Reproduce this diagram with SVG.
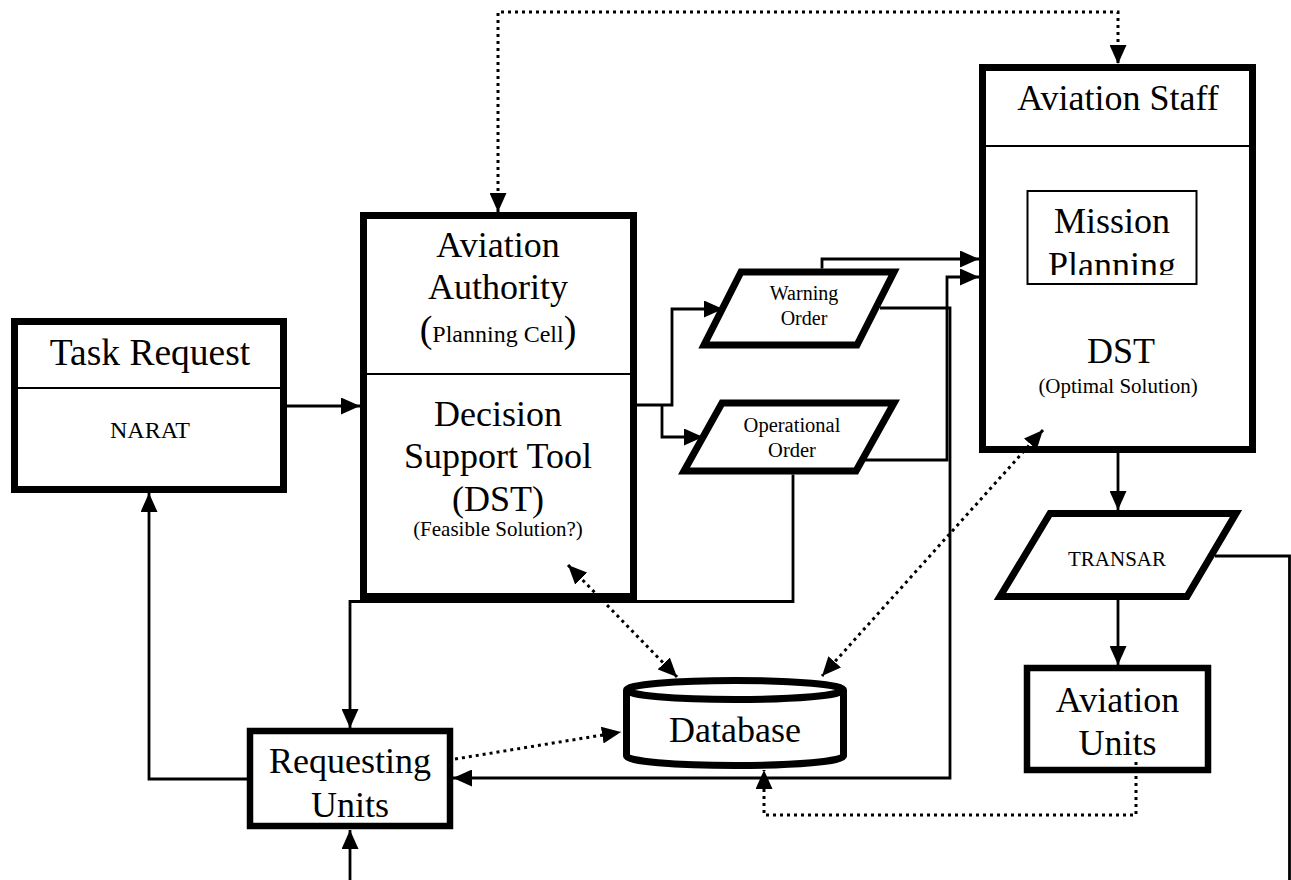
<svg xmlns="http://www.w3.org/2000/svg" width="1291" height="880" viewBox="0 0 1291 880">
  <style>
    text { font-family: "Liberation Serif", "Times New Roman", serif; fill: #000; text-anchor: middle; }
    .big { font-size: 36px; }
    .mid { font-size: 24px; }
    .small { font-size: 21px; }
    .box { fill: #fff; stroke: #000; stroke-width: 7; }
    .unit { fill: #fff; stroke: #000; stroke-width: 6.5; }
    .div { stroke: #000; stroke-width: 2; fill: none; }
    .flow { fill: none; stroke: #000; stroke-width: 2.8; }
    .dot { fill: none; stroke: #000; stroke-width: 3; stroke-dasharray: 3 4; }
  </style>
  <defs>
    <marker id="arrow" markerUnits="userSpaceOnUse" markerWidth="19" markerHeight="17" refX="19" refY="8.5" orient="auto-start-reverse">
      <path d="M0,0 L19,8.5 L0,17 z" fill="#000"/>
    </marker>
    <clipPath id="mpClip">
      <rect x="1028" y="180" width="168" height="95"/>
    </clipPath>
  </defs>

  <rect x="0" y="0" width="1291" height="880" fill="#fff"/>

  <!-- Task Request -->
  <g id="task-request">
    <rect class="box" x="14.5" y="321.5" width="269" height="168"/>
    <line class="div" x1="18" y1="388" x2="280" y2="388"/>
    <text class="big" x="150" y="365" style="font-size:37.5px">Task Request</text>
    <text class="mid" x="150" y="438">NARAT</text>
  </g>

  <!-- Aviation Authority / DST -->
  <g id="aviation-authority">
    <rect class="box" x="363.5" y="215.5" width="270" height="381"/>
    <line class="div" x1="367" y1="374" x2="630" y2="374"/>
    <text class="big" x="498" y="257">Aviation</text>
    <text class="big" x="498" y="299">Authority</text>
    <text x="498" y="342"><tspan style="font-size:38px">(</tspan><tspan class="mid">Planning Cell</tspan><tspan style="font-size:38px">)</tspan></text>
    <text class="big" x="498" y="426">Decision</text>
    <text class="big" x="498" y="468">Support Tool</text>
    <text class="big" x="498" y="511">(DST)</text>
    <text class="small" x="498" y="536">(Feasible Solution?)</text>
  </g>

  <!-- Warning Order -->
  <g id="warning-order">
    <polygon class="box" points="741,272 894,272 857,345 704,345"/>
    <text x="804" y="300" style="font-size:20px">Warning</text>
    <text x="804" y="325" style="font-size:20px">Order</text>
  </g>

  <!-- Operational Order -->
  <g id="operational-order">
    <polygon class="box" points="722,403 894,403 856,471 684,471"/>
    <text x="792" y="432" style="font-size:20.5px">Operational</text>
    <text x="792" y="457" style="font-size:20.5px">Order</text>
  </g>

  <!-- Aviation Staff -->
  <g id="aviation-staff">
    <rect class="box" x="982.5" y="67.5" width="270" height="382"/>
    <line class="div" x1="986" y1="146" x2="1249" y2="146"/>
    <text class="big" x="1118" y="110">Aviation Staff</text>
    <rect x="1027.5" y="191" width="169" height="93" fill="#fff" stroke="#000" stroke-width="2"/>
    <g clip-path="url(#mpClip)">
      <text class="big" x="1112" y="233">Mission</text>
      <text class="big" x="1112" y="277">Planning</text>
    </g>
    <text class="big" x="1121" y="363">DST</text>
    <text class="small" x="1118" y="393">(Optimal Solution)</text>
  </g>

  <!-- TRANSAR -->
  <g id="transar">
    <polygon class="box" points="1050,513.5 1236,513.5 1187,596.5 1000,596.5"/>
    <text class="small" x="1117" y="566">TRANSAR</text>
  </g>

  <!-- Aviation Units -->
  <g id="aviation-units">
    <rect class="unit" x="1027" y="668" width="181" height="102"/>
    <text class="big" x="1117.5" y="712">Aviation</text>
    <text class="big" x="1117.5" y="755">Units</text>
  </g>

  <!-- Requesting Units -->
  <g id="requesting-units">
    <rect class="unit" x="250" y="731" width="200" height="95"/>
    <text class="big" x="350" y="773">Requesting</text>
    <text class="big" x="350" y="817">Units</text>
  </g>

  <!-- Database -->
  <g id="database">
    <path d="M626.5,690 L626.5,756 A108.5,9.5 0 0 0 843.5,756 L843.5,690" fill="#fff" stroke="#000" stroke-width="7"/>
    <ellipse cx="735" cy="690" rx="108.5" ry="9.5" fill="#fff" stroke="#000" stroke-width="7"/>
    <text class="big" x="735" y="742">Database</text>
  </g>

  <!-- connectors -->
  <g id="connectors">
    <!-- solid flows -->
    <path class="flow" d="M287,406 L360,406" marker-end="url(#arrow)"/>
    <path class="flow" d="M637,405 L672,405 L672,309 L723,309" marker-end="url(#arrow)"/>
    <path class="flow" d="M662,405 L662,437 L703,437" marker-end="url(#arrow)"/>
    <path class="flow" d="M822,268.5 L822,259 L979,259" marker-end="url(#arrow)"/>
    <path class="flow" d="M860,460 L947,460 L947,277 L979,277" marker-end="url(#arrow)"/>
    <path class="flow" d="M880,308 L950,308 L950,778 L453,778" marker-end="url(#arrow)"/>
    <path class="flow" d="M793,474.5 L793,601.5 L350,601.5 L350,728" marker-end="url(#arrow)"/>
    <path class="flow" d="M247,779 L149,779 L149,493" marker-end="url(#arrow)"/>
    <path class="flow" d="M350,880 L350,830" marker-end="url(#arrow)"/>
    <path class="flow" d="M1118,453 L1118,510" marker-end="url(#arrow)"/>
    <path class="flow" d="M1118,600 L1118,665" marker-end="url(#arrow)"/>
    <path class="flow" d="M1215,556 L1289.5,556 L1289.5,880"/>
    <!-- dotted data links -->
    <path class="dot" d="M498,212 L498,12 L1118,12 L1118,64" marker-start="url(#arrow)" marker-end="url(#arrow)"/>
    <path class="dot" d="M568,565 L677,677" marker-start="url(#arrow)" marker-end="url(#arrow)"/>
    <path class="dot" d="M1043,430 L822,676" marker-start="url(#arrow)" marker-end="url(#arrow)"/>
    <path class="dot" d="M455,759 L621,732" marker-end="url(#arrow)"/>
    <path class="dot" d="M1136,762 L1136,815 L764,815 L764,770" marker-end="url(#arrow)"/>
  </g>
</svg>
